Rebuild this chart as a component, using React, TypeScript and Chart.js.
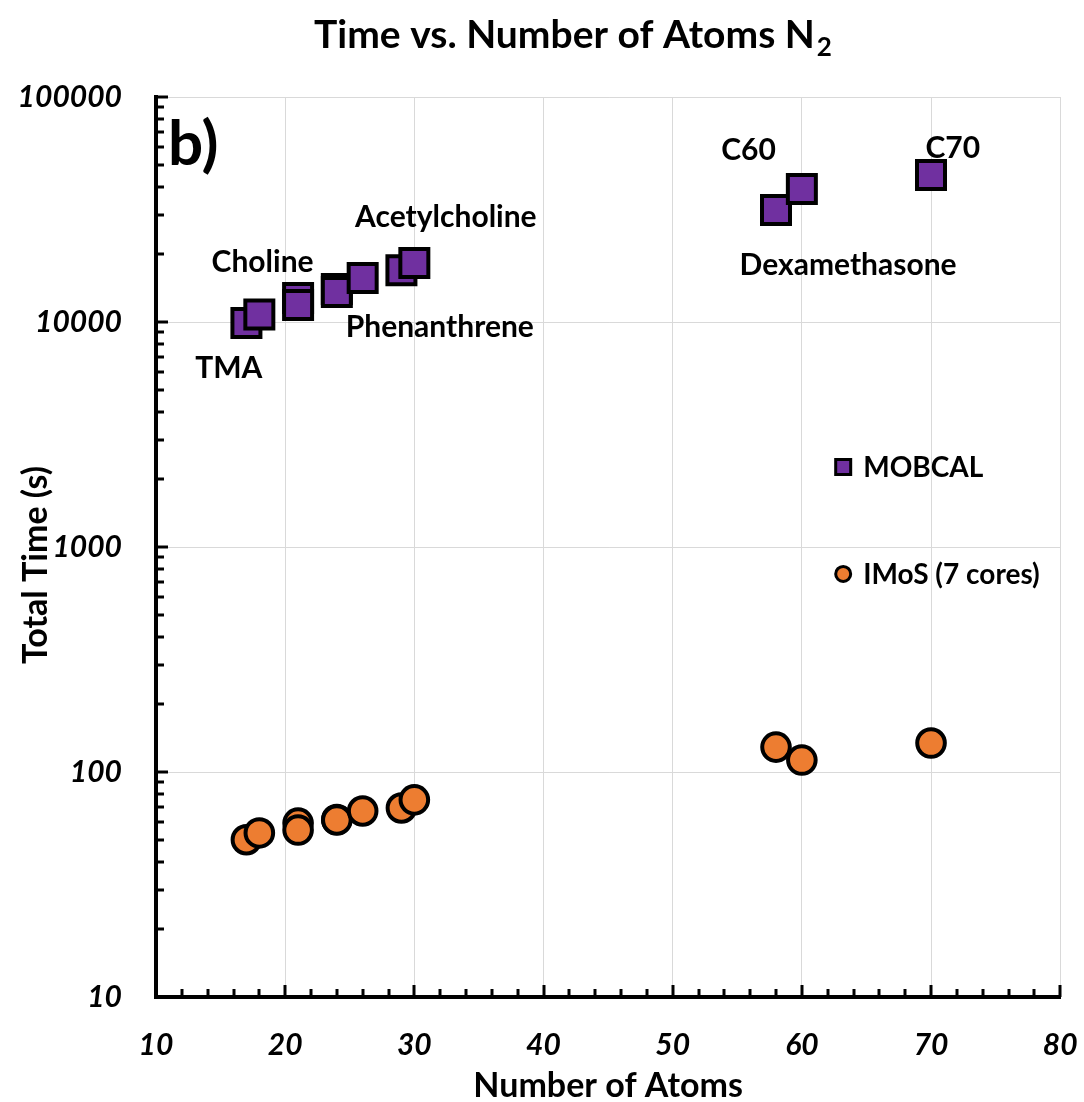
import React, { useEffect, useRef } from 'react';
import { Chart, registerables } from 'chart.js';

Chart.register(...registerables);

// ---- data ----
const atomCounts = [17, 18, 21, 21, 24, 24, 26, 29, 30, 58, 60, 70];
const mobcalTime = [9900, 10800, 12800, 11900, 14000, 13600, 15700, 17000, 18300, 31500, 39000, 45000];
const imosTime = [50, 53.6, 59.3, 55.2, 61.5, 61.2, 67.1, 69.2, 75.2, 129, 113, 134.5];
const seriesNames = ['MOBCAL', 'IMoS (7 cores)'];
const xTickValues = [10, 20, 30, 40, 50, 60, 70, 80];
const yTickValues = [10, 100, 1000, 10000, 100000];
const labelTexts = ['TMA', 'Choline', 'Acetylcholine', 'Phenanthrene', 'C60', 'C70', 'Dexamethasone'];
const labelX = [15.63, 18.25, 32.44, 31.97, 55.87, 71.68, 63.58];
const labelY = [5640, 16680, 26430, 8577, 52480, 53540, 16180];
const chartTitle = 'Time vs. Number of Atoms N';
const chartTitleSub = '2';
const xTitle = 'Number of Atoms';
const yTitle = 'Total Time (s)';
const panelTag = 'b)';

const PURPLE = '#7030A0';
const ORANGE = '#ED7D31';
const FONT = 'Lato, "Open Sans", sans-serif';
const W = 'bold';

const extrasPlugin = {
  id: 'extras',
  afterDraw(chart: any) {
    const { ctx, chartArea, scales } = chart;
    const xs = scales.x;
    const ys = scales.y;
    ctx.save();
    // inner tick marks
    ctx.strokeStyle = '#000';
    ctx.lineWidth = 3;
    ctx.lineCap = 'butt';
    for (let v = 12; v <= 80; v += 2) {
      const px = Math.round(xs.getPixelForValue(v));
      const len = v % 10 === 0 ? 12 : 8;
      ctx.beginPath();
      ctx.moveTo(px, chartArea.bottom);
      ctx.lineTo(px, chartArea.bottom - len);
      ctx.stroke();
    }
    for (let d = 1; d <= 5; d++) {
      for (let k = 1; k <= 9; k++) {
        const v = k * Math.pow(10, d);
        if (v > 100000 || v <= 10) continue;
        const py = Math.round(ys.getPixelForValue(v));
        const len = k === 1 ? 12 : 8;
        ctx.beginPath();
        ctx.moveTo(chartArea.left, py);
        ctx.lineTo(chartArea.left + len, py);
        ctx.stroke();
      }
    }

    ctx.fillStyle = '#000';
    // point labels
    ctx.font = `${W} 30px ${FONT}`;
    ctx.textAlign = 'center';
    ctx.textBaseline = 'alphabetic';
    labelTexts.forEach((t, i) => {
      ctx.fillText(t, xs.getPixelForValue(labelX[i]), ys.getPixelForValue(labelY[i]));
    });

    // panel tag
    ctx.font = `${W} 62px ${FONT}`;
    ctx.textAlign = 'left';
    ctx.fillText(panelTag, xs.getPixelForValue(10.93), ys.getPixelForValue(49900));

    // title
    ctx.font = `${W} 39px ${FONT}`;
    const mainW = ctx.measureText(chartTitle).width;
    ctx.font = `${W} 26px ${FONT}`;
    const subW = ctx.measureText(chartTitleSub).width;
    const totalW = mainW + subW + 2;
    const tx = 573 - totalW / 2;
    ctx.textAlign = 'left';
    ctx.font = `${W} 39px ${FONT}`;
    ctx.fillText(chartTitle, tx, 48);
    ctx.font = `${W} 26px ${FONT}`;
    ctx.fillText(chartTitleSub, tx + mainW + 2, 56);

    // axis titles
    ctx.font = `${W} 34px ${FONT}`;
    ctx.textAlign = 'center';
    ctx.fillText(xTitle, (chartArea.left + chartArea.right) / 2, 1097);
    ctx.save();
    ctx.translate(36, 565);
    ctx.rotate(-Math.PI / 2);
    ctx.textBaseline = 'middle';
    ctx.fillText(yTitle, 0, 0);
    ctx.restore();

    // legend
    const lx = xs.getPixelForValue(63.2);
    const ly1 = ys.getPixelForValue(2270);
    const ly2 = ys.getPixelForValue(759);
    ctx.lineWidth = 3;
    ctx.strokeStyle = '#000';
    ctx.fillStyle = PURPLE;
    ctx.beginPath();
    ctx.rect(lx - 7.5, ly1 - 7.5, 15, 15);
    ctx.fill();
    ctx.stroke();
    ctx.fillStyle = ORANGE;
    ctx.beginPath();
    ctx.arc(lx, ly2, 7.5, 0, Math.PI * 2);
    ctx.fill();
    ctx.stroke();
    ctx.fillStyle = '#000';
    ctx.font = `${W} 28px ${FONT}`;
    ctx.textAlign = 'left';
    ctx.textBaseline = 'middle';
    ctx.fillText(seriesNames[0], lx + 20, ly1 + 1);
    ctx.fillText(seriesNames[1], lx + 20, ly2 + 1);
    ctx.restore();
  },
};

export default function App() {
  const ref = useRef<HTMLCanvasElement | null>(null);
  useEffect(() => {
    if (!ref.current) return;
    const tickFont = { family: FONT, size: 30, weight: W as any, style: 'italic' as const };
    const chart = new Chart(ref.current, {
      type: 'scatter',
      data: {
        datasets: [
          {
            label: seriesNames[0],
            data: atomCounts.map((x, i) => ({ x, y: mobcalTime[i] })),
            pointStyle: 'rect',
            pointRadius: 19.8,
            pointHoverRadius: 19.8,
            backgroundColor: PURPLE,
            borderColor: '#000',
            borderWidth: 4,
          },
          {
            label: seriesNames[1],
            data: atomCounts.map((x, i) => ({ x, y: imosTime[i] })),
            pointStyle: 'circle',
            pointRadius: 13.8,
            pointHoverRadius: 13.8,
            backgroundColor: ORANGE,
            borderColor: '#000',
            borderWidth: 4,
          },
        ],
      },
      options: {
        responsive: false,
        animation: false,
        events: [],
        layout: { padding: { top: 97, right: 16, left: 0, bottom: 0 } },
        plugins: {
          legend: { display: false },
          tooltip: { enabled: false },
          title: { display: false },
        },
        scales: {
          x: {
            type: 'linear',
            min: 10,
            max: 80,
            afterBuildTicks: (s: any) => {
              s.ticks = xTickValues.map((v) => ({ value: v }));
            },
            afterFit: (s: any) => {
              s.height = 105;
              s.paddingLeft = 0;
              s.paddingRight = 0;
            },
            ticks: { color: '#000', font: tickFont, padding: 30, maxRotation: 0 },
            grid: { color: '#d9d9d9', lineWidth: 1, drawTicks: false },
            border: { color: '#000', width: 4 },
          },
          y: {
            type: 'logarithmic',
            min: 10,
            max: 100000,
            afterBuildTicks: (s: any) => {
              s.ticks = yTickValues.map((v) => ({ value: v }));
            },
            afterFit: (s: any) => {
              s.width = 156;
              s.paddingTop = 0;
              s.paddingBottom = 0;
            },
            ticks: {
              color: '#000',
              font: tickFont,
              padding: 34,
              callback: (v: any) => String(v),
            },
            grid: { color: '#d9d9d9', lineWidth: 1, drawTicks: false },
            border: { color: '#000', width: 4 },
          },
        },
      },
      plugins: [extrasPlugin],
    });
    return () => chart.destroy();
  }, []);
  return (
    <div style={{ position: 'absolute', left: 0, top: 0, width: 1084, height: 1102, background: '#fff' }}>
      <canvas ref={ref} width={1084} height={1102} style={{ display: 'block' }} />
    </div>
  );
}
